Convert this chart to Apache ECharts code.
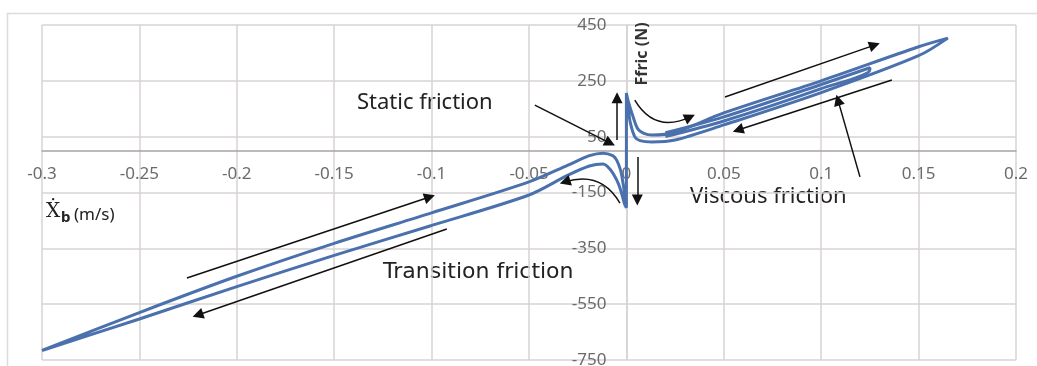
<!DOCTYPE html>
<html>
<head>
<meta charset="utf-8">
<script src="https://cdn.jsdelivr.net/npm/echarts@6/dist/echarts.min.js"></script>
<style>
html, body { margin: 0; padding: 0; background: #fff; }
#chart { width: 1037px; height: 366px; }
</style>
</head>
<body>
<div id="chart"></div>
<script>
// tick positions
var xTicks = [-0.3, -0.25, -0.2, -0.15, -0.1, -0.05, 0, 0.05, 0.1, 0.15, 0.2];
var yTicks = [-750, -550, -350, -150, 50, 250, 450];

// friction loop, [velocity m/s, force N]
var negUpper = [[-0.3, -716], [-0.25, -580], [-0.2, -450], [-0.15, -332], [-0.1, -223], [-0.05, -112],
  [-0.03, -52], [-0.019, -18], [-0.012, -9], [-0.007, -18], [-0.005, -34], [-0.003, -70], [-0.002, -105],
  [-0.001, -150], [0, -205]];
var posUpper = [[0, 206], [0.001, 175], [0.0028, 135], [0.0058, 78], [0.009, 62], [0.013, 56], [0.025, 66],
  [0.05, 135], [0.1, 250], [0.15, 372], [0.165, 403]];
var posLower = [[0.15, 340], [0.1, 208], [0.05, 92], [0.025, 38], [0.013, 31], [0.007, 36], [0.0043, 50],
  [0.002, 100], [0.001, 150], [0, 200], [0, -205]];
var negLower = [[-0.001, -190], [-0.003, -140], [-0.005, -105], [-0.008, -70], [-0.012, -48], [-0.019, -55],
  [-0.03, -88], [-0.05, -159], [-0.1, -268], [-0.15, -375], [-0.2, -487], [-0.25, -603], [-0.3, -716]];
// extra inner cycles on the positive side
var innerUp = [[0.02, 64], [0.05, 121], [0.1, 237], [0.125, 297]];
var innerDown = [[0.125, 290], [0.1, 222], [0.05, 106], [0.02, 50]];

// annotation arrows: from, to (data units), bend
var arrows = [
  [[-0.2256, -456], [-0.101, -166], 0],
  [[-0.0922, -281], [-0.22, -589], 0],
  [[0.0506, 192], [0.1274, 378], 0],
  [[0.1363, 253], [0.0573, 74], 0],
  [[0.1199, -94], [0.1086, 181], 0],
  [[-0.047, 163], [-0.0084, 27], 0],
  [[-0.0048, 38], [-0.0048, 189], 0],
  [[0.0056, -23], [0.0056, -177], 0],
  [[0.0043, 181], [0.0326, 120], -0.45],
  [[-0.0033, -188], [-0.0315, -112], -0.4]
];

var loop = negUpper.concat(posUpper, posLower, negLower);
var inner = innerUp.concat(innerDown);

var blue = '#4a71ad';
var gridCol = '#d9d3d3';
var labelFont = 'Noto Sans';

var chart = echarts.init(document.getElementById('chart'));

// labels sit next to the zero lines, not at the plot edges
var gridLeft = 42, gridTop = 25, gridBottom = 6;
var plotH = 366 - gridTop - gridBottom;
var zeroY = gridTop + plotH * 450 / 1200;
var zeroX = gridLeft + (1037 - 21 - gridLeft) * 0.3 / 0.5;

chart.setOption({
  animation: false,
  grid: { left: gridLeft, right: 21, top: gridTop, bottom: gridBottom, outerBoundsMode: 'none' },
  xAxis: {
    type: 'value',
    min: -0.3, max: 0.2,
    axisLine: { onZero: true, lineStyle: { color: '#a8a2a2', width: 1.5 } },
    axisTick: { show: false, customValues: xTicks },
    axisLabel: { customValues: xTicks, margin: zeroY - (366 - gridBottom) + 15, color: '#6b6b6b', fontSize: 17, fontFamily: labelFont },
    splitLine: { lineStyle: { color: gridCol, width: 1.5 } }
  },
  yAxis: {
    type: 'value',
    min: -750, max: 450,
    axisLine: { onZero: true, lineStyle: { color: gridCol, width: 1.5 } },
    axisTick: { show: false, customValues: yTicks },
    axisLabel: { customValues: yTicks, margin: gridLeft - zeroX + 20, color: '#6b6b6b', fontSize: 17, fontFamily: labelFont },
    splitLine: { lineStyle: { color: gridCol, width: 1.5 } }
  },
  series: [
    {
      type: 'line',
      data: loop,
      showSymbol: false,
      smooth: 0.3,
      lineStyle: { color: blue, width: 3 }
    },
    {
      type: 'line',
      data: inner,
      showSymbol: false,
      smooth: 0.3,
      lineStyle: { color: blue, width: 3 }
    },
    {
      type: 'lines',
      coordinateSystem: 'cartesian2d',
      symbol: ['none', 'triangle'],
      symbolSize: 11,
      lineStyle: { color: '#111', width: 1.5, opacity: 1 },
      data: arrows.map(function (a) {
        return { coords: [a[0], a[1]], lineStyle: { curveness: a[2] } };
      }),
      z: 5
    }
  ],
  graphic: [
    { type: 'rect', silent: true, shape: { x: 7.5, y: 13.5, width: 1100, height: 400 },
      style: { fill: 'none', stroke: '#dcdcdc', lineWidth: 1.5 } },
    { type: 'text', x: 357, y: 103,
      style: { text: 'Static friction', font: '22px "Noto Sans"', fill: '#222', verticalAlign: 'middle' } },
    { type: 'text', x: 690, y: 197,
      style: { text: 'Viscous friction', font: '22px "Noto Sans"', fill: '#222', verticalAlign: 'middle' } },
    { type: 'text', x: 383, y: 272,
      style: { text: 'Transition friction', font: '22px "DejaVu Sans"', fill: '#222', verticalAlign: 'middle' } },
    { type: 'text', x: 642, y: 54, rotation: Math.PI / 2, z: 10,
      style: { text: 'Ffric (N)', font: 'bold 16px "Noto Sans"', fill: '#333', align: 'center', verticalAlign: 'middle' } },
    { type: 'text', x: 46, y: 212,
      style: { text: '\u1E8A', font: '20px "DejaVu Serif"', fill: '#222', verticalAlign: 'middle' } },
    { type: 'text', x: 61, y: 218,
      style: { text: 'b', font: 'bold 15px "Noto Sans"', fill: '#222', verticalAlign: 'middle' } },
    { type: 'text', x: 74, y: 215,
      style: { text: '(m/s)', font: '17px "Noto Sans"', fill: '#222', verticalAlign: 'middle' } }
  ]
});
</script>
</body>
</html>
